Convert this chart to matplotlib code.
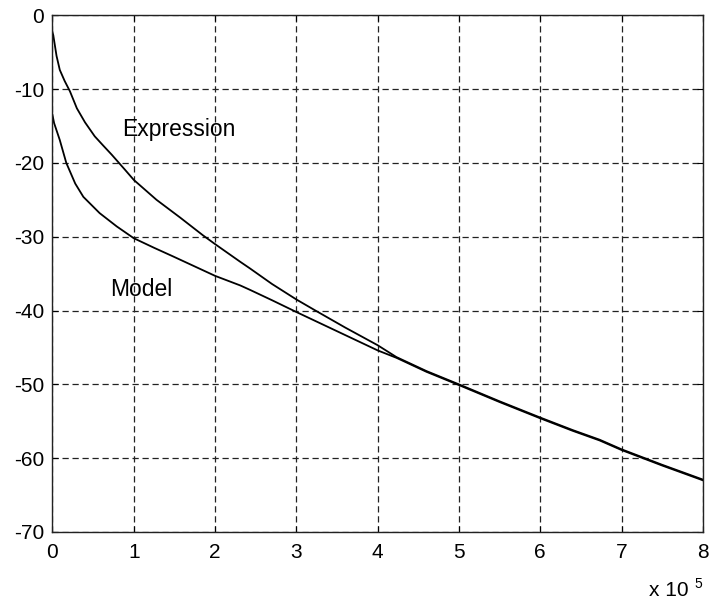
import matplotlib
matplotlib.use("Agg")
import matplotlib.pyplot as plt

plt.rcParams['font.family'] = ['Liberation Sans', 'DejaVu Sans']

# Time axis values (in units of 1e5) and the two decay curves
expr_x = [0, 0.01, 0.05, 0.09, 0.15, 0.215, 0.30, 0.40, 0.52, 0.62, 0.73, 0.89,
          1.0, 1.28, 1.57, 1.85, 2.0, 2.31, 2.43, 2.7, 3.0, 3.25, 3.6, 4.0, 4.23,
          4.6, 5.0, 5.5, 6.0, 6.4, 6.73, 7.0, 7.5, 8.0]
expr_y = [-2.3, -2.7, -5.5, -7.4, -8.9, -10.3, -12.6, -14.5, -16.4, -17.6, -18.9,
          -20.9, -22.3, -25.0, -27.4, -29.8, -31.0, -33.4, -34.3, -36.4, -38.5,
          -40.1, -42.3, -44.7, -46.3, -48.2, -50.0, -52.3, -54.5, -56.2, -57.5,
          -58.8, -60.9, -62.9]

model_x = [0, 0.02, 0.09, 0.17, 0.28, 0.38, 0.58, 0.79, 1.0, 1.25, 1.49, 2.0,
           2.31, 2.43, 2.7, 3.0, 3.5, 4.0, 4.23, 4.6, 5.0, 5.5, 6.0, 6.4, 6.73,
           7.0, 7.5, 8.0]
model_y = [-13.5, -14.6, -16.9, -20.0, -22.8, -24.6, -26.8, -28.6, -30.2, -31.5,
           -32.7, -35.3, -36.6, -37.2, -38.6, -40.2, -42.8, -45.4, -46.4, -48.3,
           -50.1, -52.4, -54.6, -56.3, -57.6, -58.9, -61.0, -63.0]

x_ticks = [0, 1, 2, 3, 4, 5, 6, 7, 8]
y_ticks = [-70, -60, -50, -40, -30, -20, -10, 0]

fig = plt.figure(figsize=(7.10, 6.02), dpi=100)
ax = fig.add_axes([0.0739, 0.1163, 0.9161, 0.8583])

ax.plot(expr_x, expr_y, color='black', lw=1.3)
ax.plot(model_x, model_y, color='black', lw=1.3)

ax.set_xlim(0, 8)
ax.set_ylim(-70, 0)
ax.set_xticks(x_ticks)
ax.set_yticks(y_ticks)
ax.set_xticklabels([str(t) for t in x_ticks])
ax.set_yticklabels([str(t) for t in y_ticks])

ax.grid(True, color='#222222', linestyle=(0, (5, 3)), linewidth=0.9)
ax.tick_params(direction='in', length=4, width=0.8, labelsize=15,
               colors='black', top=True, right=True)
ax.tick_params(axis='x', pad=8)
ax.tick_params(axis='y', pad=6)
for s in ax.spines.values():
    s.set_linewidth(1.0)
    s.set_color('#222222')

ax.text(0.86, -15.5, 'Expression', fontsize=16.5, va='center', ha='left')
ax.text(0.71, -37.2, 'Model', fontsize=16.5, va='center', ha='left')

fig.text(0.914, 0.004, 'x 10', fontsize=15, ha='left', va='bottom')
fig.text(0.978, 0.018, '5', fontsize=10, ha='left', va='bottom')

fig.savefig('out.png', dpi=100)
